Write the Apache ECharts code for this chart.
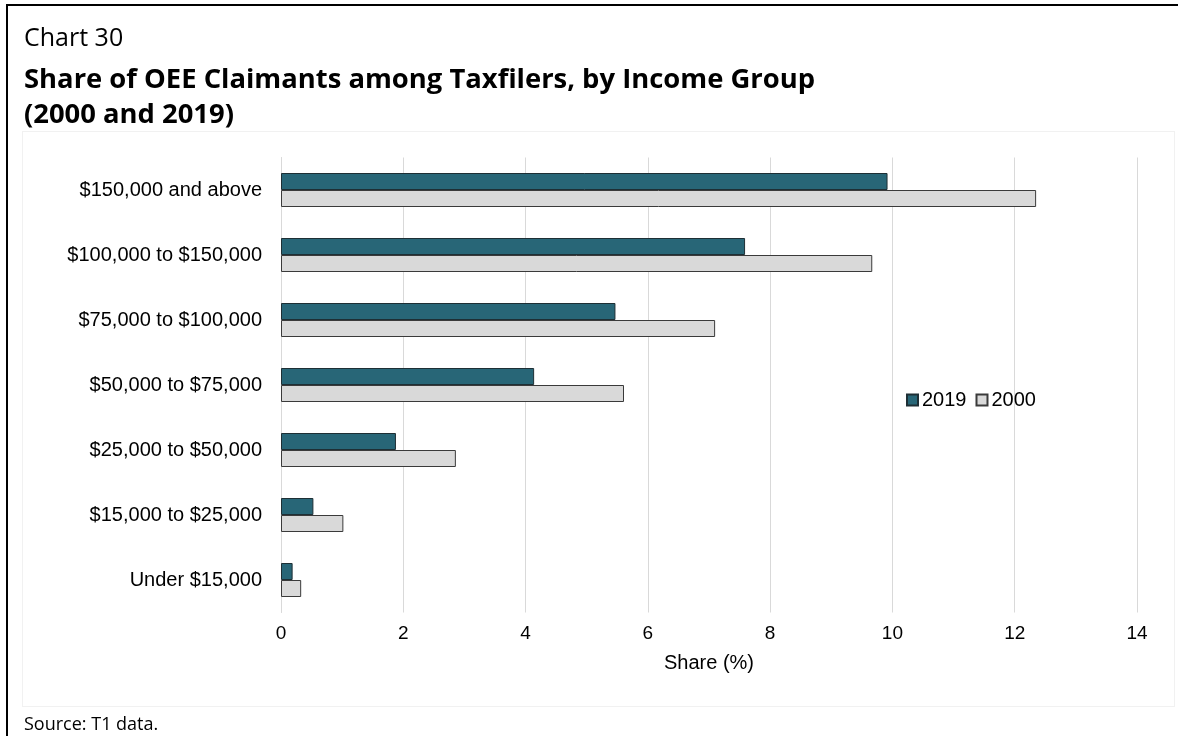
<!DOCTYPE html>
<html>
<head>
<meta charset="utf-8">
<script src="https://cdn.jsdelivr.net/npm/echarts@6/dist/echarts.min.js"></script>
<style>
  html, body { margin: 0; padding: 0; background: #fff; }
  #frame { position: absolute; left: 6px; top: 4px; width: 1172px; height: 732px;
           border-left: 2px solid #000; border-top: 2px solid #000; box-sizing: border-box; }
  #inner { position: absolute; left: 22px; top: 131px; width: 1153px; height: 576px;
           border: 1px solid #f1f1f1; box-sizing: border-box; }
  #chart { position: absolute; left: 0; top: 0; width: 1178px; height: 736px; }
</style>
</head>
<body>
<div id="frame"></div>
<div id="inner"></div>
<div id="chart"></div>
<script>
// Income groups, bottom to top as drawn on the category axis
const categories = [
  'Under $15,000',
  '$15,000 to $25,000',
  '$25,000 to $50,000',
  '$50,000 to $75,000',
  '$75,000 to $100,000',
  '$100,000 to $150,000',
  '$150,000 and above'
];
// Share of OEE claimants among taxfilers (%)
const share2019 = [0.19, 0.53, 1.88, 4.14, 5.47, 7.59, 9.92];
const share2000 = [0.33, 1.02, 2.86, 5.61, 7.10, 9.67, 12.35];
const xTicks = [0, 2, 4, 6, 8, 10, 12, 14];

const chart = echarts.init(document.getElementById('chart'), null, { renderer: 'canvas' });

const headFont = '"Open Sans", "Noto Sans", sans-serif';
const bodyFont = '"Liberation Sans", Arial, sans-serif';

chart.setOption({
  animation: false,
  backgroundColor: 'transparent',
  title: [
    { text: 'Chart 30', left: 19, top: 21,
      textStyle: { fontFamily: headFont, fontWeight: 'normal', fontSize: 25, color: '#000' } },
    { text: 'Share of OEE Claimants among Taxfilers, by Income Group\n(2000 and 2019)', left: 19, top: 58,
      textStyle: { fontFamily: headFont, fontWeight: 'bold', fontSize: 27.4, lineHeight: 35, color: '#000' } },
    { text: 'Source: T1 data.', left: 19, top: 711,
      textStyle: { fontFamily: headFont, fontWeight: 'normal', fontSize: 18, color: '#000' } }
  ],
  legend: {
    left: 901, top: 385,
    itemWidth: 11, itemHeight: 11, itemGap: 9,
    icon: 'rect',
    textStyle: { fontFamily: bodyFont, fontSize: 20, color: '#000', padding: [0, 0, 0, -1] },
    data: ['2019', '2000']
  },
  grid: { left: 281, right: 41, top: 157.5, bottom: 123.5, containLabel: false },
  xAxis: {
    type: 'value',
    min: xTicks[0], max: xTicks[xTicks.length - 1], interval: 2,
    name: 'Share (%)', nameLocation: 'middle', nameGap: 41,
    nameTextStyle: { fontFamily: bodyFont, fontSize: 20, color: '#000' },
    axisLine: { show: false },
    axisTick: { show: false },
    axisLabel: { fontFamily: bodyFont, fontSize: 19, color: '#000', margin: 12 },
    splitLine: { show: true, lineStyle: { color: '#d9d9d9', width: 1 } }
  },
  yAxis: {
    type: 'category',
    data: categories,
    axisLine: { show: true, lineStyle: { color: '#d9d9d9', width: 1 } },
    axisTick: { show: false },
    axisLabel: { fontFamily: bodyFont, fontSize: 20, color: '#000', margin: 19 }
  },
  series: [
    {
      name: '2019', type: 'bar', data: share2019,
      barWidth: 17, barGap: '0%',
      itemStyle: { color: '#286677', borderColor: '#1e2f35', borderWidth: 1 }
    },
    {
      name: '2000', type: 'bar', data: share2000,
      barWidth: 17, barGap: '0%',
      itemStyle: { color: '#d9d9d9', borderColor: '#3a3a3a', borderWidth: 1 }
    }
  ]
});
</script>
</body>
</html>
